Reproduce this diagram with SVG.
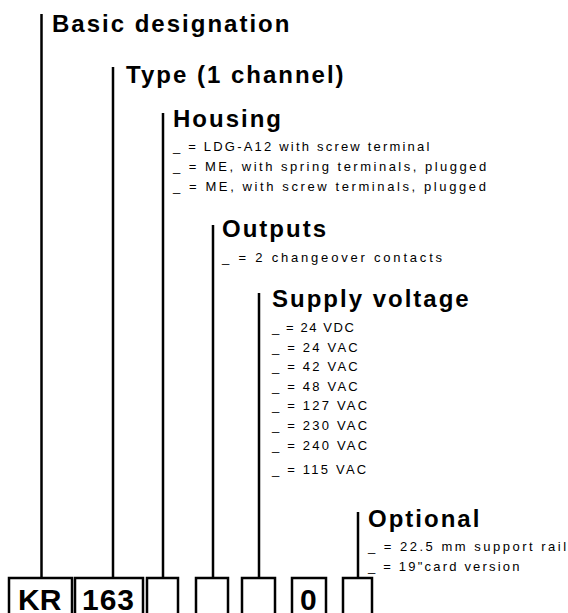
<svg xmlns="http://www.w3.org/2000/svg" width="568" height="613" viewBox="0 0 568 613">
<style>
.h{font-family:"Liberation Sans",Arial,sans-serif;font-weight:bold;font-size:24px;letter-spacing:2px;fill:#000}
.s{font-family:"Liberation Sans",Arial,sans-serif;font-size:13px;letter-spacing:2.2px;fill:#000}
.b{font-family:"Liberation Sans",Arial,sans-serif;font-weight:bold;font-size:30px;fill:#000}
.ln{stroke:#000;stroke-width:2.5;fill:none}
.box{stroke:#000;stroke-width:2.5;fill:#fff}
</style>
<rect width="568" height="613" fill="#fff"/>
<g id="connectors">
<line class="ln" x1="41.5" y1="14" x2="41.5" y2="578"/>
<line class="ln" x1="113" y1="67" x2="113" y2="578"/>
<line class="ln" x1="163" y1="113" x2="163" y2="578"/>
<line class="ln" x1="213" y1="225" x2="213" y2="578"/>
<line class="ln" x1="259" y1="293" x2="259" y2="578"/>
<line class="ln" x1="358" y1="512" x2="358" y2="578"/>
</g>
<g id="basic">
<text class="h" x="52" y="32">Basic designation</text>
</g>
<g id="type">
<text class="h" x="126" y="83">Type (1 channel)</text>
</g>
<g id="housing">
<text class="h" x="173" y="127">Housing</text>
<text class="s" x="173" y="151">_ = LDG-A12 with screw terminal</text>
<text class="s" x="173" y="171" style="letter-spacing:2.5px">_ = ME, with spring terminals, plugged</text>
<text class="s" x="173" y="191" style="letter-spacing:2.6px">_ = ME, with screw terminals, plugged</text>
</g>
<g id="outputs">
<text class="h" x="222" y="237">Outputs</text>
<text class="s" x="222" y="262" style="letter-spacing:2.8px">_ = 2 changeover contacts</text>
</g>
<g id="supply">
<text class="h" x="272" y="307">Supply voltage</text>
<text class="s" x="272" y="332" style="letter-spacing:1.6px">_ = 24 VDC</text>
<text class="s" x="272" y="352">_ = 24 VAC</text>
<text class="s" x="272" y="371">_ = 42 VAC</text>
<text class="s" x="272" y="391">_ = 48 VAC</text>
<text class="s" x="272" y="410">_ = 127 VAC</text>
<text class="s" x="272" y="430">_ = 230 VAC</text>
<text class="s" x="272" y="450">_ = 240 VAC</text>
<text class="s" x="272" y="474">_ = 115 VAC</text>
</g>
<g id="optional">
<text class="h" x="368" y="527">Optional</text>
<text class="s" x="368" y="551" style="letter-spacing:2.5px">_ = 22.5 mm support rail</text>
<text class="s" x="368" y="571">_ = 19"card version</text>
</g>
<g id="box-kr"><rect class="box" x="9" y="578" width="63" height="45"/><text class="b" x="18" y="610">KR</text></g>
<g id="box-163"><rect class="box" x="75" y="578" width="68" height="45"/><text class="b" x="82" y="610" style="letter-spacing:1px">163</text></g>
<g id="box-housing"><rect class="box" x="147" y="578" width="31" height="45"/></g>
<g id="box-outputs"><rect class="box" x="196" y="578" width="32" height="45"/></g>
<g id="box-supply"><rect class="box" x="242" y="578" width="33" height="45"/></g>
<g id="box-0"><rect class="box" x="292" y="578" width="34" height="45"/><text class="b" x="300" y="610">0</text></g>
<g id="box-optional"><rect class="box" x="343" y="578" width="29" height="45"/></g>
</svg>
